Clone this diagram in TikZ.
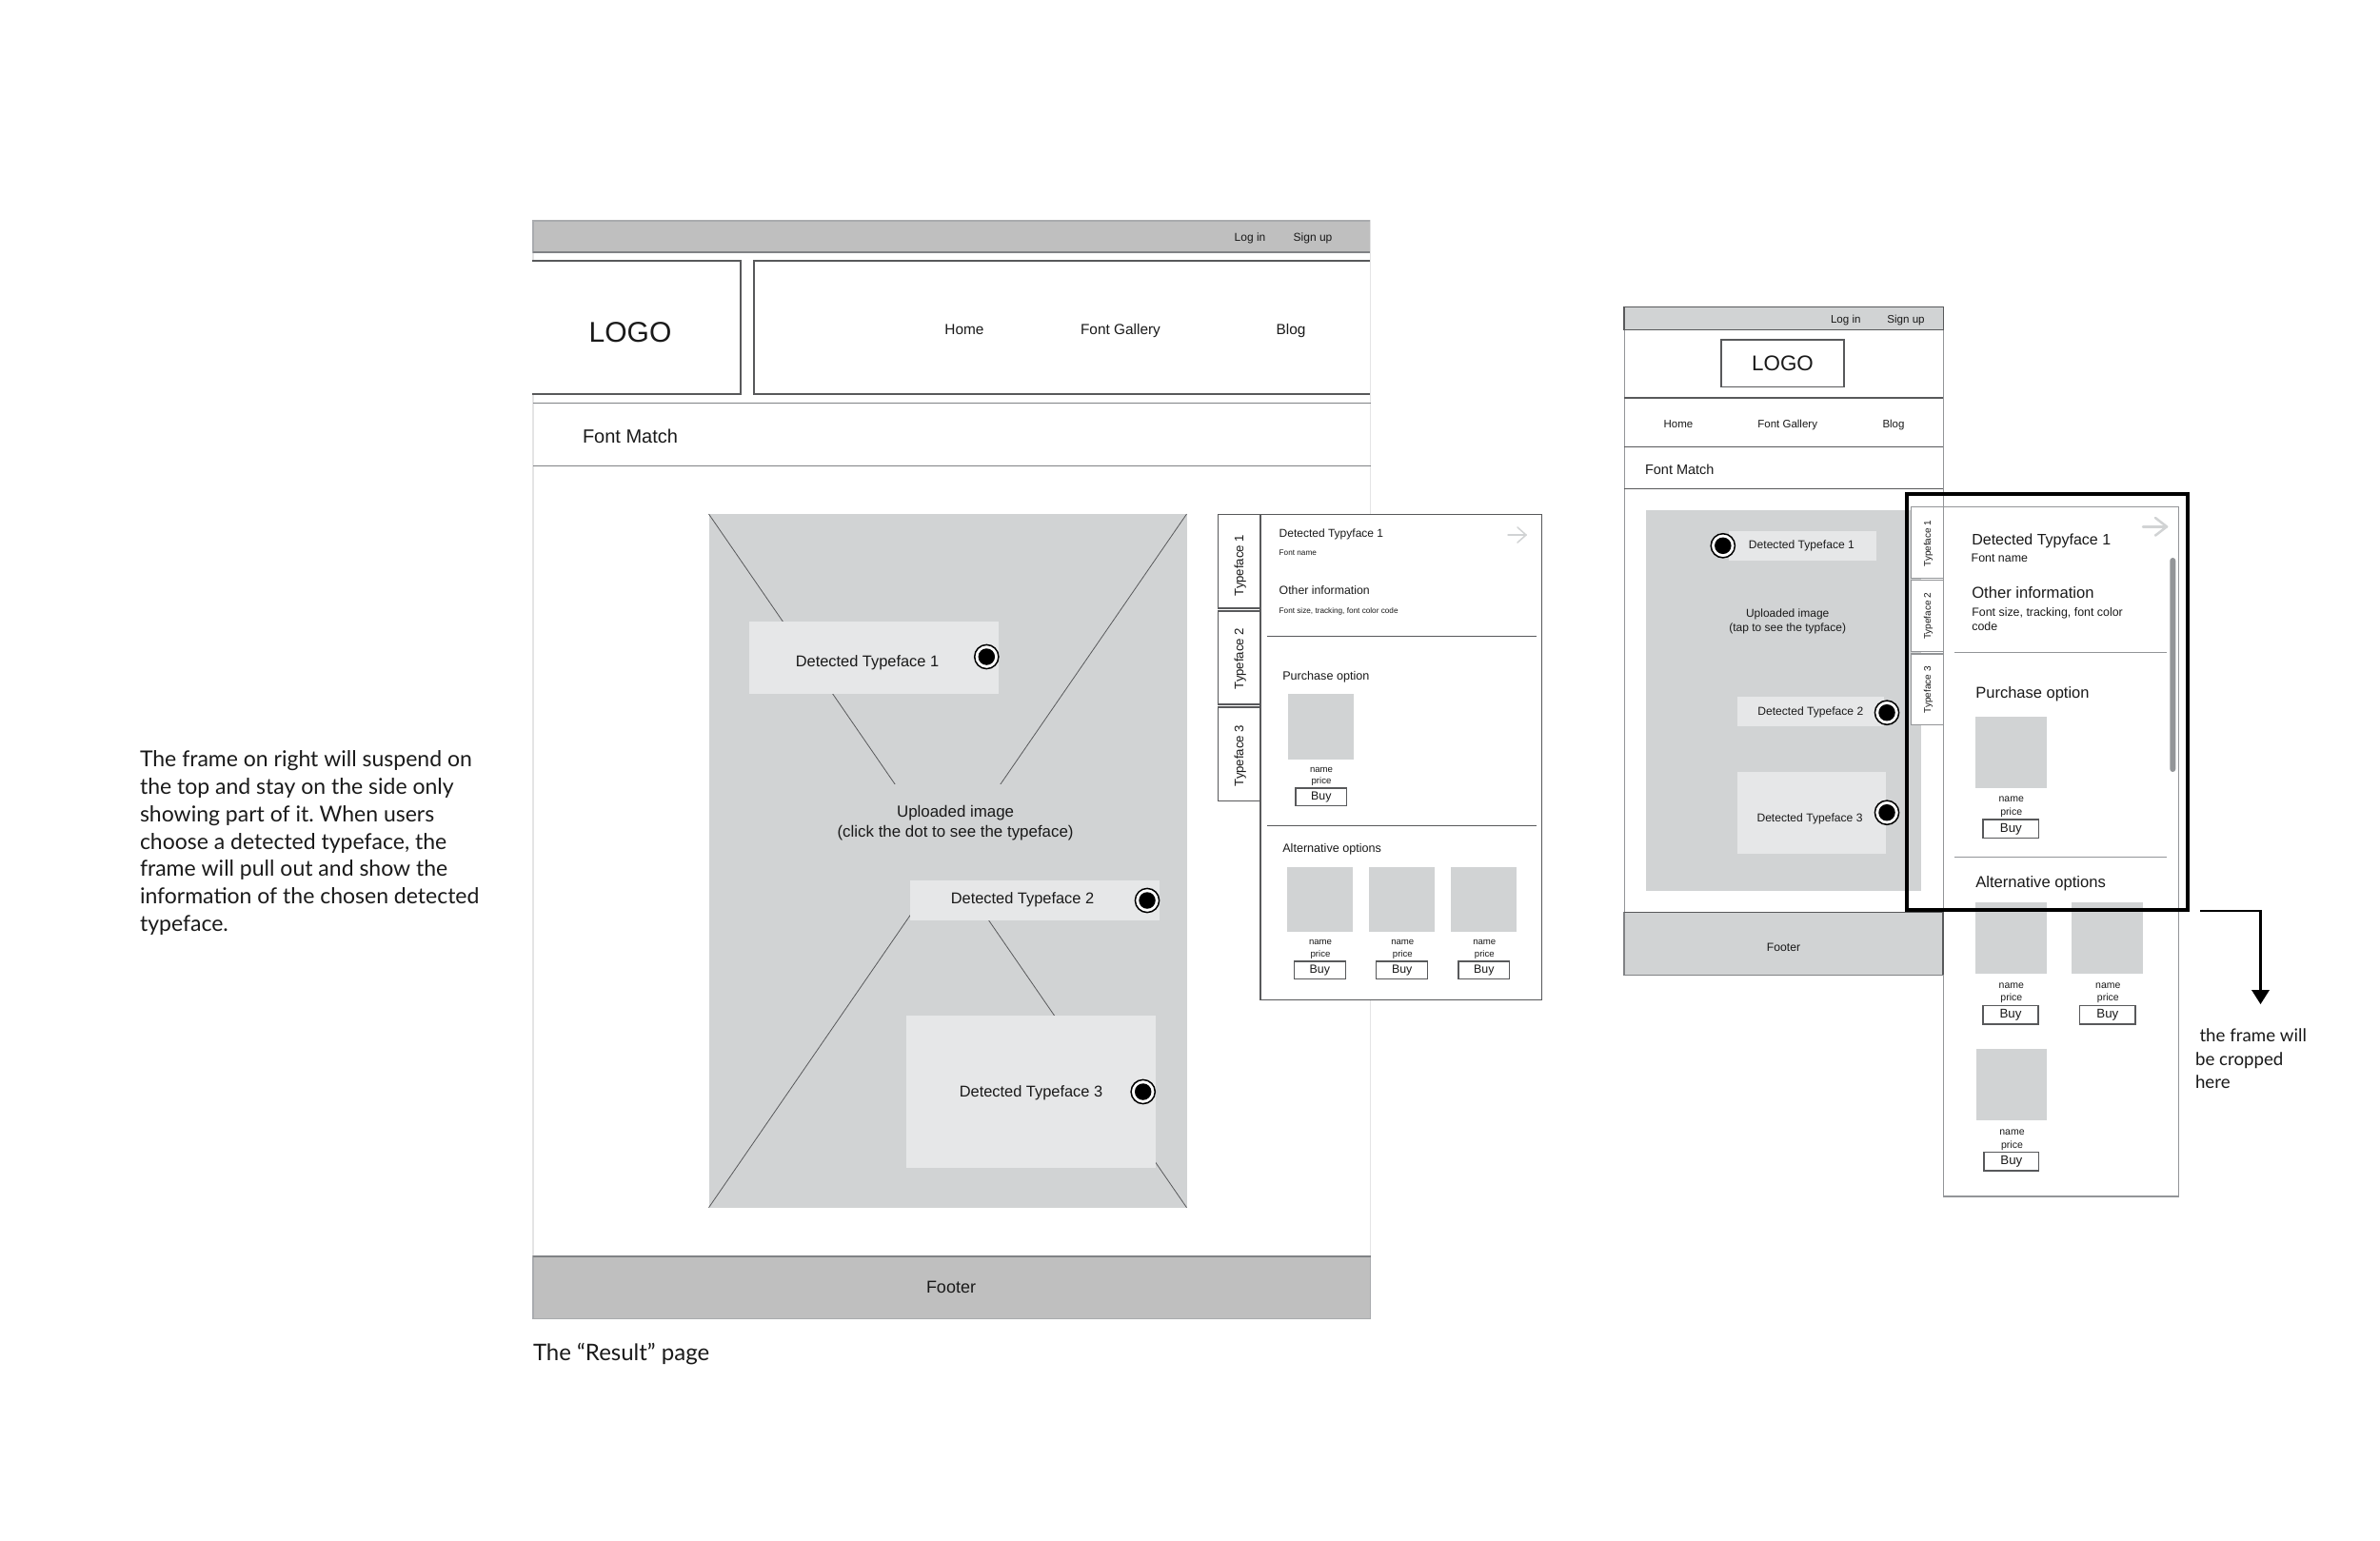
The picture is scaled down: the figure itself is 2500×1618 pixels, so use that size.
\documentclass[tikz,border=0pt]{standalone}
\usepackage{fontspec}
\setmainfont{Liberation Sans}
\newfontfamily\notefont{Lato}
\definecolor{barA}{HTML}{BFBFBF}
\definecolor{imgC}{HTML}{D1D3D4}
\definecolor{boxC}{HTML}{E6E7E8}
\definecolor{lineD}{HTML}{58595B}
\definecolor{lineM}{HTML}{808285}
\definecolor{lineL}{HTML}{939598}
\definecolor{lineA}{HTML}{A9ABAE}
\definecolor{pageL}{HTML}{E4E4E5}
\definecolor{txt}{HTML}{1A1A1A}
\newcommand{\fz}[1]{\fontsize{#1}{#1}\selectfont}
\newcommand{\bx}[7]{\pgfmathsetmacro\wa{#5-#3}\pgfmathsetmacro\ha{#6-#4}%
  \node[#2,minimum width=\wa pt,minimum height=\ha pt,anchor=north west,inner sep=0pt,outer sep=0pt] (#1) at (#3,#4) {#7};}
\newcommand{\tc}[5]{\pgfmathsetmacro\ya{#4+0.24*#2}\node[lbl,font=\fz{#2}] (#1) at (#3,\ya) {#5};}
\newcommand{\tl}[5]{\pgfmathsetmacro\ya{#4+0.24*#2}\node[lbl,anchor=mid west,font=\fz{#2}] (#1) at (#3,\ya) {#5};}
\newcommand{\dotmark}[3]{\node[ring] (#1) at (#2,#3) {}; \node[core] (#1c) at (#1.center) {};}
\tikzset{
  x=1pt,y=-1pt,
  lbl/.style={inner sep=0pt,outer sep=0pt,anchor=mid,text=txt},
  ring/.style={circle,draw=black,line width=1.5pt,fill=white,minimum size=25.2pt,inner sep=0pt},
  core/.style={circle,fill=black,minimum size=17.5pt,inner sep=0pt},
  barL/.style={fill=barA,draw=lineA,line width=1.2pt},
  barM/.style={fill=imgC,draw=lineD,line width=1.3pt},
  barF/.style={fill=imgC,draw=lineM,line width=1.1pt},
  barEdge/.style={draw=lineM,line width=1.8pt},
  barEdgeM/.style={draw=lineD,line width=1.6pt},
  wbox/.style={draw=lineD,line width=1.3pt,fill=white},
  wboxM/.style={draw=lineL,line width=1.2pt,fill=white},
  imgb/.style={fill=imgC},
  tag/.style={fill=boxC},
  buybox/.style={draw=lineD,line width=1.2pt,fill=white,text=txt},
  rule/.style={draw=lineM,line width=1.3pt},
  thinrule/.style={draw=lineD,line width=1pt},
  pagel/.style={draw=pageL,line width=1.6pt},
  diag/.style={draw=lineD,line width=0.8pt},
  goarrow/.style={draw=imgC,line width=2pt,line cap=round,line join=round},
  note/.style={inner sep=0pt,outer sep=0pt,anchor=north west,align=left,text=txt},
}
\begin{document}
\begin{tikzpicture}
\useasboundingbox (0,0) rectangle (2500,1618);
\fill[white] (0,0) rectangle (2500,1618);

%% ---------- note text
\node[note,font={\notefont\frenchspacing\fz{23}\baselineskip=28.7pt}] (notetext) at (147,789) {The frame on right will suspend on\\the top and stay on the side only\\showing part of it. When users\\choose a detected typeface, the\\frame will pull out and show the\\information of the chosen detected\\typeface.};

%% ---------- desktop page
\coordinate (pl1) at (560,231); \coordinate (pl2) at (560,1320);
\coordinate (pr1) at (1439.6,231); \coordinate (pr2) at (1439.6,1320);
\draw[pagel] (pl1) -- (pl2);
\draw[pagel] (pr1) -- (pr2);
\bx{topbar}{barL}{560}{232}{1439.7}{265}{}
\draw[barEdge] (topbar.south west) -- (topbar.south east);
\tc{login}{12}{1313}{247.8}{Log in}
\tc{signup}{12}{1379}{247.8}{Sign up}
\bx{logobox}{wbox}{552}{274}{778}{414}{}
\fill[white] (540,270) rectangle (559.3,420);
\bx{navbox}{wbox}{792}{274}{1452}{414}{}
\fill[white] (1440.4,270) rectangle (1460,420);
\draw[pagel] (pr1) -- (pr2);
\tc{logo}{30}{662}{350}{LOGO}
\tc{home}{15.4}{1013}{345.5}{Home}
\tc{gallery}{15.4}{1177}{345.5}{Font Gallery}
\tc{blog}{15.4}{1356}{345.5}{Blog}
\coordinate (fa) at (560,423.5); \coordinate (fb) at (1440,423.5);
\coordinate (fc) at (560,489.5); \coordinate (fd) at (1440,489.5);
\draw[rule] (fa) -- (fb);
\draw[rule] (fc) -- (fd);
\tl{fontmatch}{20}{612}{458}{Font Match}

%% uploaded image
\bx{img}{imgb}{744.5}{540}{1246.5}{1268.7}{}
\draw[diag] (img.north west) -- (img.south east);
\draw[diag] (img.north east) -- (img.south west);
\bx{gapcover}{imgb}{900}{824}{1100}{925}{}
\bx{det1}{tag}{787.4}{652.5}{1049}{729}{}
\tc{det1t}{16.4}{911}{694}{Detected Typeface 1}
\dotmark{d1}{1036.3}{690}
\bx{det2}{tag}{956}{925}{1218}{967}{}
\tc{det2t}{16.4}{1074}{943}{Detected Typeface 2}
\dotmark{d2}{1205}{946}
\bx{det3}{tag}{952}{1067}{1213.6}{1227}{}
\tc{det3t}{16.4}{1083}{1146}{Detected Typeface 3}
\dotmark{d3}{1200.7}{1147}
\tc{upa}{16.9}{1003.6}{852}{Uploaded image}
\tc{upb}{16.9}{1003.6}{873}{(click the dot to see the typeface)}

\bx{footer}{barL}{560}{1320}{1439.7}{1385.7}{}
\draw[barEdge] (footer.north west) -- (footer.north east);
\tc{footert}{18}{999}{1352}{Footer}
\node[note,font={\notefont\fz{24}}] (caption) at (560,1411) {The “Result” page};

%% side panel
\bx{tabA}{wbox}{1279.7}{540.7}{1324}{639}{}
\bx{tabB}{wbox}{1279.7}{642}{1324}{740}{}
\bx{tabC}{wbox}{1279.7}{743}{1324}{841.4}{}
\bx{panel}{wbox}{1324}{540.7}{1619.7}{1050.7}{}
\node[lbl,rotate=90,font=\fz{13.2}] (tabAt) at (1303.5,594) {Typeface 1};
\node[lbl,rotate=90,font=\fz{13.2}] (tabBt) at (1303.5,692) {Typeface 2};
\node[lbl,rotate=90,font=\fz{13.2}] (tabCt) at (1303.5,794) {Typeface 3};
\tl{ptitle}{12}{1343.7}{558.6}{Detected Typyface 1}
\tl{pfont}{8.2}{1343.7}{579}{Font name}
\tl{pother}{12.3}{1343.7}{619}{Other information}
\tl{psize}{8.2}{1343.7}{640}{Font size, tracking, font color code}
\coordinate (pr1a) at (1331,668.6); \coordinate (pr1b) at (1613.7,668.6);
\coordinate (pr2a) at (1331,867.5); \coordinate (pr2b) at (1613.7,867.5);
\draw[thinrule] (pr1a) -- (pr1b);
\draw[thinrule] (pr2a) -- (pr2b);
\tl{ppurch}{12.6}{1347.3}{709}{Purchase option}
\bx{psq}{imgb}{1353.3}{729}{1422}{797.5}{}
\tc{pn}{9.6}{1388}{806.5}{name}
\tc{pp}{9.6}{1388}{818.6}{price}
\bx{pbuy}{buybox}{1361}{828}{1414.7}{846.4}{\fz{12.4}Buy}
\tl{palt}{12.6}{1347.3}{890}{Alternative options}
\bx{asqA}{imgb}{1352}{911}{1420.7}{979.3}{}
\bx{asqB}{imgb}{1438.3}{911}{1507}{979.3}{}
\bx{asqC}{imgb}{1524.3}{911}{1593}{979.3}{}
\tc{anA}{9.6}{1387}{988}{name}
\tc{apA}{9.6}{1387}{1000.4}{price}
\tc{anB}{9.6}{1473.3}{988}{name}
\tc{apB}{9.6}{1473.3}{1000.4}{price}
\tc{anC}{9.6}{1559.3}{988}{name}
\tc{apC}{9.6}{1559.3}{1000.4}{price}
\bx{abuyA}{buybox}{1359.3}{1010}{1413.3}{1028.7}{\fz{12.4}Buy}
\bx{abuyB}{buybox}{1445.7}{1010}{1499.7}{1028.7}{\fz{12.4}Buy}
\bx{abuyC}{buybox}{1532}{1010}{1585.7}{1028.7}{\fz{12.4}Buy}
\coordinate (arA) at (1584,562); \coordinate (arB) at (1603,562);
\coordinate (arC) at (1594,554); \coordinate (arD) at (1594,570);
\draw[goarrow,line width=1.5pt] (arA) -- (arB);
\draw[goarrow,line width=1.5pt] (arC) -- (arB) -- (arD);

%% ---------- mobile page
\coordinate (ml1) at (1706,322.7); \coordinate (ml2) at (1706,1024);
\coordinate (mr1) at (2041.2,322.7); \coordinate (mr2) at (2041.2,958.7);
\draw[draw=lineL,line width=1pt] (ml1) -- (ml2);
\draw[draw=lineL,line width=1pt] (mr1) -- (mr2);
\bx{mtop}{barM}{1706}{322.7}{2041.2}{346.7}{}
\tc{mlogin}{11.6}{1938.8}{333.8}{Log in}
\tc{msignup}{11.6}{2002}{333.8}{Sign up}
\bx{mlogo}{wbox}{1808}{357}{1937}{406.7}{\color{txt}\fz{22.4}LOGO}
\coordinate (ma) at (1706,418); \coordinate (mb) at (2041.2,418);
\coordinate (mc) at (1706,469.7); \coordinate (md) at (2041.2,469.7);
\coordinate (me) at (1706,513.7); \coordinate (mf) at (2041.2,513.7);
\draw[rule,draw=lineD] (ma) -- (mb);
\draw[rule,draw=lineD] (mc) -- (md);
\draw[rule,draw=lineD] (me) -- (mf);
\tc{mhome}{11.5}{1763}{444}{Home}
\tc{mgal}{11.5}{1877.7}{444}{Font Gallery}
\tc{mblog}{11.5}{1989}{444}{Blog}
\tl{mfm}{14.5}{1728}{492.7}{Font Match}
\bx{mimg}{imgb}{1729}{536}{2017.7}{935.7}{}
\bx{mdet1}{tag}{1816}{558}{1970.5}{589}{}
\tc{mdet1t}{12.1}{1892.4}{570.7}{Detected Typeface 1}
\dotmark{md1}{1809.8}{573.3}
\bx{mdet2}{tag}{1825}{732}{1979}{762.7}{}
\tc{mdet2t}{12.1}{1901.8}{745.7}{Detected Typeface 2}
\dotmark{md2}{1982}{748.7}
\bx{mdet3}{tag}{1825}{811}{1981}{897}{}
\tc{mdet3t}{12.1}{1901}{858}{Detected Typeface 3}
\dotmark{md3}{1982}{853.7}
\tc{mupa}{12}{1877.7}{642.7}{Uploaded image}
\tc{mupb}{12}{1877.7}{658}{(tap to see the typface)}
\bx{mfooter}{barF}{1706}{958.3}{2041}{1024.3}{}
\draw[barEdgeM,line join=miter] (mfooter.north west) -- (mfooter.north east) -- (mfooter.south east);
\tc{mfootert}{12.2}{1873.5}{994.3}{Footer}

%% mobile side panel
\bx{mpanel}{wboxM}{2041.2}{532.7}{2288.7}{1257}{}
\draw[draw=lineD,line width=1.6pt] (mfooter.north east) -- (mfooter.south east);
\bx{mtabA}{wboxM}{2007.3}{532.7}{2041.2}{607.7}{}
\bx{mtabB}{wboxM}{2007.3}{609.7}{2041.2}{684.7}{}
\bx{mtabC}{wboxM}{2007.3}{687}{2041.2}{761.7}{}
\node[lbl,rotate=90,font=\fz{10}] (mtabAt) at (2025.5,571) {Typeface 1};
\node[lbl,rotate=90,font=\fz{10}] (mtabBt) at (2025.5,647.5) {Typeface 2};
\node[lbl,rotate=90,font=\fz{10}] (mtabCt) at (2025.5,724.7) {Typeface 3};
\tl{mptitle}{16}{2071.3}{566}{Detected Typyface 1}
\tl{mpfont}{12.4}{2070.7}{584.7}{Font name}
\tl{mpother}{16.6}{2071.3}{621.7}{Other information}
\tl{mpsizeA}{12.4}{2071.3}{642}{Font size, tracking, font color}
\tl{mpsizeB}{12.4}{2071.3}{657.3}{code}
\coordinate (mra) at (2053,685.3); \coordinate (mrb) at (2276,685.3);
\coordinate (mrc) at (2053,900.7); \coordinate (mrd) at (2276,900.7);
\draw[rule,draw=lineL] (mra) -- (mrb);
\draw[rule,draw=lineL] (mrc) -- (mrd);
\bx{mscroll}{rounded corners=3pt,fill=lineL}{2279.3}{586}{2285.3}{811}{}
\tl{mppurch}{16.5}{2075.3}{727.3}{Purchase option}
\bx{mpsq}{imgb}{2074.7}{753}{2149.7}{827.7}{}
\tc{mpn}{10.5}{2112.7}{837.5}{name}
\tc{mpp}{10.5}{2112.7}{850.9}{price}
\bx{mpbuy}{buybox}{2083}{861}{2141.7}{880.7}{\fz{13.3}Buy}
\tl{mpalt}{16.6}{2075.3}{926}{Alternative options}
\bx{msqA}{imgb}{2074.7}{948}{2149.7}{1022.7}{}
\bx{msqB}{imgb}{2176}{948}{2250.7}{1022.7}{}
\tc{mnA}{10.5}{2112.8}{1033}{name}
\tc{mpA}{10.5}{2112.8}{1046.3}{price}
\tc{mnB}{10.5}{2214.3}{1033}{name}
\tc{mpB}{10.5}{2214.3}{1046.3}{price}
\bx{mbuyA}{buybox}{2083}{1056.3}{2141}{1076}{\fz{13.3}Buy}
\bx{mbuyB}{buybox}{2184.7}{1056.3}{2243}{1076}{\fz{13.3}Buy}
\bx{msqC}{imgb}{2075.5}{1102.3}{2150}{1177}{}
\tc{mnC}{10.5}{2113.5}{1187.7}{name}
\tc{mpC}{10.5}{2113.5}{1201.7}{price}
\bx{mbuyC}{buybox}{2084}{1210.3}{2141.8}{1230}{\fz{13.3}Buy}
\coordinate (mgA) at (2251,553.3); \coordinate (mgB) at (2276,553.3);
\coordinate (mgC) at (2264,544); \coordinate (mgD) at (2264,562.6);
\draw[goarrow,line width=2.5pt] (mgA) -- (mgB);
\draw[goarrow,line width=2.5pt] (mgC) -- (mgB) -- (mgD);

%% crop frame and its arrow
\bx{cropframe}{draw=black,line width=4pt}{2003}{519}{2298}{955.7}{}
\coordinate (cropA) at (2311,957);
\coordinate (cropB) at (2374.5,957);
\coordinate (cropC) at (2374.5,1055);
\coordinate (cropD) at (2374.5,1043);
\draw[black,line width=2.5pt] (cropA) -- (cropB) -- (cropD);
\fill[black] (cropC) -- ++(-9.5,-15) -- ++(19,0) -- cycle;
\node[note,font={\notefont\fz{18.7}\baselineskip=24.6pt}] (cropnote) at (2306,1081) {\hspace{4.5pt}the frame will\\be cropped\\here};
\end{tikzpicture}
\end{document}
